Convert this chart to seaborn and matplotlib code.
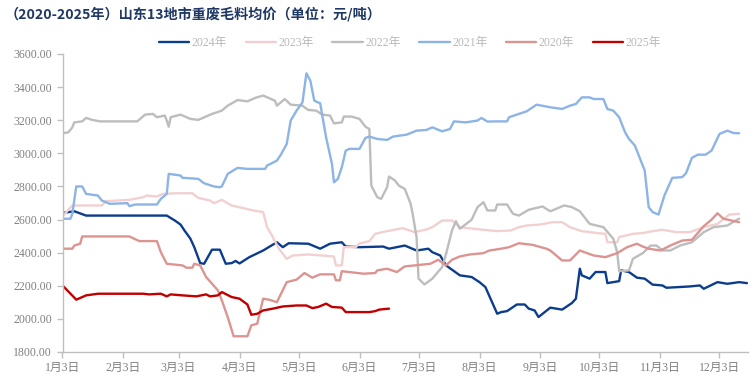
import pandas as pd
import seaborn as sns
import matplotlib.pyplot as plt

# 各年份的日期（月-日）和价格（元/吨）
d2024 = ["01-03", "01-09", "01-15", "02-25", "03-01", "03-04", "03-06", "03-09", "03-11", "03-14",
         "03-16", "03-20", "03-24", "03-27", "03-30", "04-01", "04-03", "04-08", "04-15", "04-22",
         "04-25", "04-28", "05-08", "05-14", "05-19", "05-25", "05-27", "06-03", "06-15", "06-18",
         "06-26", "07-02", "07-08", "07-10", "07-14", "07-17", "07-24", "07-30", "08-03", "08-06",
         "08-12", "08-14", "08-17", "08-22", "08-26", "08-28", "08-31", "09-02", "09-08", "09-14",
         "09-19", "09-21", "09-23", "09-24", "09-28", "10-01", "10-06", "10-07", "10-13", "10-14",
         "10-18", "10-22", "10-26", "10-30", "11-04", "11-06", "11-18", "11-23", "11-25", "12-02",
         "12-07", "12-13", "12-17"]
v2024 = [2640, 2650, 2624, 2624, 2595, 2570, 2534, 2485, 2433, 2337,
         2333, 2418, 2418, 2333, 2337, 2350, 2335, 2373, 2413, 2463,
         2433, 2457, 2454, 2424, 2454, 2463, 2437, 2433, 2437, 2424,
         2443, 2413, 2424, 2403, 2383, 2323, 2263, 2253, 2222, 2192,
         2031, 2041, 2047, 2087, 2087, 2062, 2051, 2011, 2068, 2056,
         2096, 2122, 2303, 2263, 2243, 2283, 2283, 2216, 2228, 2293,
         2283, 2249, 2243, 2207, 2202, 2188, 2196, 2202, 2182, 2222,
         2212, 2222, 2216]

d2023 = ["01-03", "01-06", "01-08", "01-23", "01-25", "02-06", "02-13", "02-15", "02-20", "02-23",
         "03-02", "03-10", "03-13", "03-19", "03-21", "03-25", "03-30", "04-10", "04-15", "04-17",
         "04-19", "04-23", "04-27", "04-30", "05-08", "05-15", "05-21", "05-22", "05-25", "05-26",
         "06-01", "06-03", "06-08", "06-11", "06-17", "06-25", "07-01", "07-07", "07-10", "07-15",
         "07-20", "07-24", "07-31", "08-12", "08-19", "08-23", "08-27", "09-03", "09-09", "09-14",
         "09-18", "09-24", "10-02", "10-06", "10-07", "10-12", "10-13", "10-20", "10-25", "10-30",
         "11-04", "11-11", "11-18", "11-25", "12-02", "12-08", "12-13"]
v2023 = [2619, 2659, 2685, 2685, 2711, 2719, 2735, 2745, 2739, 2755,
         2759, 2759, 2731, 2715, 2699, 2719, 2685, 2655, 2645, 2554,
         2514, 2424, 2363, 2383, 2389, 2383, 2377, 2323, 2323, 2433,
         2433, 2455, 2470, 2514, 2530, 2548, 2524, 2540, 2554, 2594,
         2594, 2554, 2544, 2530, 2534, 2554, 2564, 2570, 2584, 2584,
         2554, 2530, 2518, 2514, 2463, 2463, 2494, 2514, 2518, 2530,
         2538, 2524, 2524, 2554, 2574, 2630, 2635]

d2022 = ["01-03", "01-06", "01-08", "01-09", "01-13", "01-15", "01-18", "01-22", "02-10", "02-14",
         "02-18", "02-20", "02-24", "02-25", "02-26", "02-27", "03-04", "03-09", "03-13", "03-20",
         "03-25", "03-28", "04-02", "04-07", "04-11", "04-15", "04-21", "04-22", "04-26", "04-29",
         "05-05", "05-06", "05-08", "05-12", "05-15", "05-19", "05-21", "05-25", "05-26", "05-30",
         "06-03", "06-06", "06-08", "06-09", "06-12", "06-14", "06-17", "06-18", "06-21", "06-23",
         "06-26", "06-29", "06-30", "07-02", "07-03", "07-06", "07-10", "07-15", "07-17", "07-20",
         "07-22", "07-24", "07-30", "08-02", "08-05", "08-07", "08-11", "08-12", "08-17", "08-20",
         "08-23", "08-28", "09-04", "09-08", "09-15", "09-19", "09-23", "09-28", "10-05", "10-10",
         "10-12", "10-13", "10-18", "10-20", "10-25", "10-29", "11-01", "11-04", "11-08", "11-13",
         "11-19", "11-25", "11-30", "12-07", "12-12", "12-13"]
v2022 = [3121, 3127, 3157, 3187, 3193, 3214, 3202, 3193, 3193, 3234,
         3238, 3218, 3228, 3198, 3161, 3218, 3234, 3208, 3202, 3238,
         3258, 3288, 3322, 3314, 3335, 3349, 3318, 3288, 3328, 3294,
         3288, 3278, 3262, 3258, 3234, 3228, 3181, 3187, 3222, 3222,
         3208, 3161, 3147, 2805, 2735, 2725, 2795, 2860, 2836, 2805,
         2785, 2695, 2635, 2494, 2243, 2208, 2243, 2313, 2393, 2534,
         2590, 2544, 2599, 2675, 2705, 2655, 2655, 2691, 2691, 2635,
         2624, 2659, 2679, 2650, 2685, 2675, 2650, 2574, 2554, 2484,
         2403, 2288, 2293, 2363, 2397, 2443, 2443, 2413, 2413, 2443,
         2463, 2524, 2554, 2564, 2599, 2605]

d2021 = ["01-03", "01-07", "01-08", "01-10", "01-13", "01-15", "01-21", "01-23", "01-27", "02-05",
         "02-06", "02-09", "02-20", "02-22", "02-25", "02-26", "03-04", "03-05", "03-13", "03-16",
         "03-21", "03-24", "03-25", "03-28", "04-02", "04-07", "04-16", "04-17", "04-22", "04-24",
         "04-27", "04-29", "05-02", "05-05", "05-07", "05-09", "05-11", "05-14", "05-17", "05-20",
         "05-21", "05-23", "05-25", "05-27", "05-29", "06-03", "06-06", "06-08", "06-12", "06-17",
         "06-20", "06-27", "07-02", "07-07", "07-10", "07-15", "07-19", "07-21", "07-27", "08-02",
         "08-04", "08-07", "08-13", "08-17", "08-18", "08-23", "08-27", "09-01", "09-08", "09-14",
         "09-18", "09-21", "09-24", "09-28", "09-30", "10-05", "10-07", "10-10", "10-13", "10-16",
         "10-18", "10-21", "10-24", "10-26", "10-28", "10-30", "11-02", "11-05", "11-09", "11-14",
         "11-16", "11-19", "11-22", "11-26", "11-29", "12-03", "12-07", "12-10", "12-13"]
v2021 = [2605, 2605, 2635, 2800, 2800, 2755, 2745, 2715, 2695, 2699,
         2681, 2691, 2691, 2725, 2755, 2876, 2866, 2852, 2846, 2819,
         2800, 2795, 2800, 2876, 2912, 2906, 2906, 2926, 2956, 2992,
         3057, 3198, 3258, 3308, 3483, 3439, 3318, 3302, 3097, 2936,
         2825, 2846, 2916, 3017, 3027, 3027, 3093, 3101, 3087, 3081,
         3101, 3113, 3137, 3141, 3157, 3133, 3147, 3193, 3187, 3198,
         3214, 3192, 3193, 3193, 3218, 3238, 3254, 3294, 3278, 3268,
         3288, 3298, 3338, 3338, 3328, 3328, 3268, 3258, 3218, 3127,
         3087, 3047, 2956, 2896, 2675, 2645, 2630, 2745, 2852, 2856,
         2880, 2973, 2992, 2992, 3017, 3117, 3137, 3123, 3121]

d2020 = ["01-03", "01-08", "01-09", "01-12", "01-13", "02-06", "02-11", "02-20", "02-22", "02-25",
         "03-05", "03-07", "03-10", "03-11", "03-14", "03-17", "03-23", "03-25", "03-28", "03-31",
         "04-07", "04-09", "04-12", "04-15", "04-18", "04-22", "04-27", "05-02", "05-06", "05-10",
         "05-14", "05-21", "05-22", "05-24", "05-25", "06-05", "06-11", "06-12", "06-17", "06-22",
         "06-26", "07-01", "07-09", "07-13", "07-17", "07-20", "07-24", "07-29", "08-05", "08-08",
         "08-14", "08-18", "08-23", "08-30", "09-06", "09-08", "09-14", "09-18", "09-23", "09-30",
         "10-06", "10-12", "10-17", "10-22", "10-25", "10-28", "11-03", "11-08", "11-14", "11-19",
         "11-25", "11-29", "12-02", "12-05", "12-13"]
v2020 = [2424, 2424, 2443, 2454, 2498, 2498, 2470, 2470, 2403, 2333,
         2323, 2309, 2309, 2333, 2323, 2253, 2172, 2112, 2011, 1895,
         1895, 1961, 1971, 2122, 2116, 2101, 2222, 2237, 2277, 2249,
         2269, 2269, 2233, 2233, 2288, 2273, 2277, 2293, 2303, 2283,
         2317, 2323, 2333, 2357, 2323, 2357, 2377, 2389, 2397, 2413,
         2424, 2433, 2457, 2447, 2424, 2413, 2353, 2353, 2413, 2383,
         2373, 2397, 2433, 2454, 2437, 2424, 2413, 2443, 2473, 2478,
         2560, 2600, 2638, 2605, 2584]

d2025 = ["01-03", "01-10", "01-15", "01-21", "02-13", "02-16", "02-22", "02-25", "02-27", "03-05",
         "03-12", "03-17", "03-19", "03-23", "03-25", "03-30", "04-03", "04-07", "04-09", "04-12",
         "04-15", "04-20", "04-25", "05-02", "05-07", "05-10", "05-13", "05-17", "05-20", "05-25",
         "05-27", "06-08", "06-11", "06-13", "06-18"]
v2025 = [2202, 2116, 2142, 2152, 2152, 2148, 2152, 2136, 2148, 2142,
         2136, 2148, 2136, 2142, 2162, 2132, 2122, 2087, 2025, 2031,
         2051, 2062, 2075, 2081, 2081, 2065, 2072, 2092, 2072, 2068,
         2041, 2041, 2047, 2056, 2062]

years = ["2024年", "2023年", "2022年", "2021年", "2020年", "2025年"]
colors = ["#0b3d8c", "#f2d0d0", "#bdbdbd", "#8cb4e6", "#dc9491", "#c00000"]
tick_days = ["01-03", "02-03", "03-03", "04-03", "05-03", "06-03",
             "07-03", "08-03", "09-03", "10-03", "11-03", "12-03"]
tick_labels = ["1月3日", "2月3日", "3月3日", "4月3日", "5月3日", "6月3日",
               "7月3日", "8月3日", "9月3日", "10月3日", "11月3日", "12月3日"]

# 合成长表，统一放到同一年(2021)的日历上
parts = []
for name, dd, vv in zip(years, [d2024, d2023, d2022, d2021, d2020, d2025],
                        [v2024, v2023, v2022, v2021, v2020, v2025]):
    parts.append(pd.DataFrame({"date": pd.to_datetime(["2021-" + s for s in dd]),
                               "price": vv, "year": name}))
df = pd.concat(parts, ignore_index=True)

sns.set_style("white")
plt.rcParams["font.family"] = ["Liberation Serif", "Noto Sans CJK SC", "DejaVu Sans"]

fig = plt.figure(figsize=(7.55, 3.81), dpi=100)
ax = fig.add_axes([62.5 / 755, 1 - 352 / 381, (748 - 62.5) / 755, (352 - 54) / 381])

sns.lineplot(data=df, x="date", y="price", hue="year", hue_order=years,
             palette=colors, linewidth=1.7, estimator=None, ax=ax)

ax.set_xlim(pd.Timestamp("2021-01-03"), pd.Timestamp("2021-12-17 12:00"))
ax.set_ylim(1800, 3600)
ax.set_yticks(range(1800, 3601, 200))
ax.set_yticklabels([f"{v:.2f}" for v in range(1800, 3601, 200)])
ax.set_xticks(pd.to_datetime(["2021-" + s for s in tick_days]))
ax.set_xticklabels(tick_labels)
ax.set_xlabel("")
ax.set_ylabel("")

for s in ["top", "right"]:
    ax.spines[s].set_visible(False)
for s in ["left", "bottom"]:
    ax.spines[s].set_color("#bfbfbf")
    ax.spines[s].set_linewidth(1)
ax.tick_params(axis="both", colors="#bfbfbf", labelcolor="#808080", labelsize=8.5,
               length=4, width=1, direction="out", left=True, bottom=True)
ax.tick_params(axis="x", pad=3)

h, l = ax.get_legend_handles_labels()
ax.get_legend().remove()
fig.legend(h, l, loc="center", bbox_to_anchor=(0.543, 0.887), ncol=6, frameon=False,
           fontsize=8.5, labelcolor="#b8b8b8", handlelength=2.6, handletextpad=0.2,
           columnspacing=1.55)

fig.text(0.006, 0.964, "（2020-2025年）山东13地市重废毛料均价（单位：元/吨）",
         family=["Noto Sans CJK SC", "DejaVu Sans"], fontsize=10.2, fontweight="bold",
         color="#1f3864", va="center", ha="left")

fig.savefig("out.png", dpi=100)
